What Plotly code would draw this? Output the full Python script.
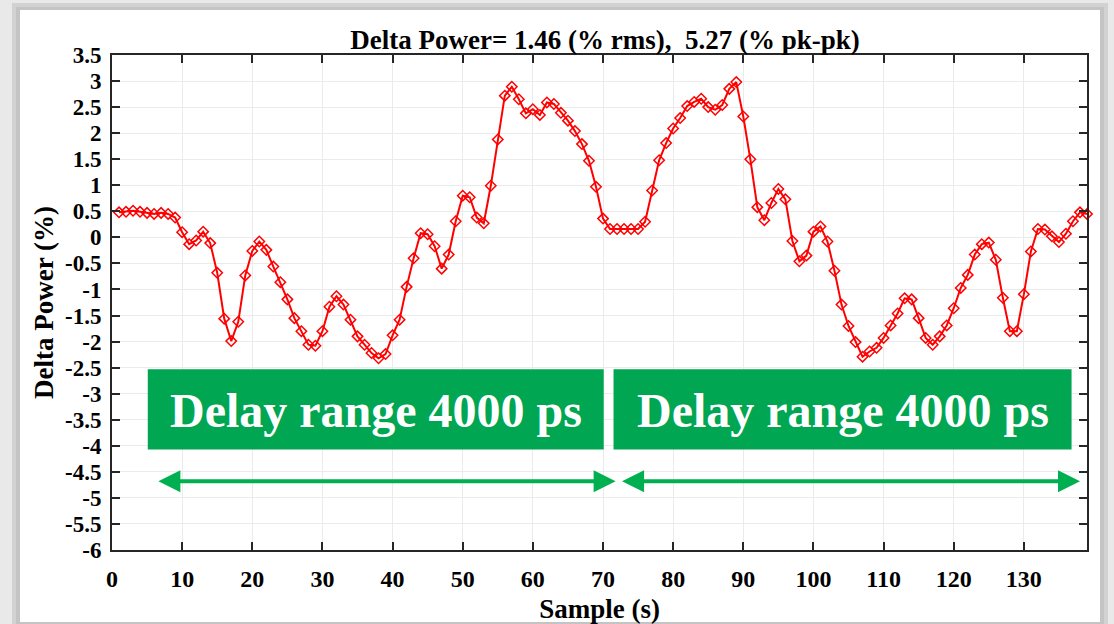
import plotly.graph_objects as go

# ---- data ----
samples = list(range(1, 140))
delta_power = [
    0.48, 0.49, 0.51, 0.49, 0.47, 0.45, 0.47, 0.45, 0.38, 0.10,
    -0.13, -0.06, 0.11, -0.11, -0.68, -1.56, -1.99, -1.62, -0.73, -0.26,
    -0.08, -0.24, -0.56, -0.86, -1.19, -1.55, -1.80, -2.06, -2.08, -1.80,
    -1.33, -1.13, -1.29, -1.58, -1.90, -2.06, -2.22, -2.32, -2.24, -1.88,
    -1.58, -0.95, -0.40, 0.08, 0.06, -0.17, -0.60, -0.33, 0.31, 0.80,
    0.77, 0.38, 0.27, 0.99, 1.88, 2.72, 2.89, 2.65, 2.38, 2.46,
    2.35, 2.59, 2.56, 2.39, 2.24, 2.04, 1.79, 1.47, 0.97, 0.36,
    0.16, 0.16, 0.16, 0.16, 0.16, 0.30, 0.90, 1.48, 1.81, 2.09,
    2.29, 2.52, 2.60, 2.66, 2.50, 2.45, 2.54, 2.85, 2.98, 2.32,
    1.50, 0.58, 0.33, 0.66, 0.93, 0.73, -0.07, -0.46, -0.35, 0.11,
    0.21, -0.08, -0.64, -1.29, -1.70, -2.01, -2.29, -2.19, -2.12, -1.93,
    -1.69, -1.46, -1.17, -1.19, -1.55, -1.93, -2.06, -1.90, -1.69, -1.36,
    -0.97, -0.72, -0.33, -0.13, -0.10, -0.43, -1.16, -1.80, -1.80, -1.09,
    -0.27, 0.16, 0.15, 0.02, -0.09, 0.07, 0.31, 0.48, 0.45,
]
x_ticks = list(range(0, 140, 10))
y_ticks = [3.5 - 0.5 * i for i in range(20)]
y_tick_labels = [("%g" % v) for v in y_ticks]

title_text = "Delta Power= 1.46 (% rms),&nbsp; 5.27 (% pk-pk)"
box_label = "Delay range 4000 ps"
# delay-range segments (sample units)
segments = [(5.1, 70.1), (71.5, 136.8)]
arrow_segments = [(6.4, 71.8), (72.5, 138.0)]

SERIF = "Liberation Serif"
GREEN_BOX = "#00a651"
GREEN_ARROW = "#00b050"
AX = "#262626"

fig = go.Figure()
fig.add_trace(go.Scatter(
    x=samples, y=delta_power, mode="lines+markers",
    line=dict(color="#ff0000", width=2),
    marker=dict(symbol="diamond-open", size=8, color="#ff0000",
                line=dict(width=1.5, color="#ff0000")),
    cliponaxis=False, showlegend=False,
))

L, R, T, B = 112, 1087, 55, 550
W, H = 1114, 624
pw, ph = R - L, B - T


def px(p):
    return (p - L) / pw


def py(p):
    return (B - p) / ph


shapes = [
    dict(type="rect", xref="paper", yref="paper", layer="below",
         x0=px(12), x1=px(1108), y0=py(626), y1=py(3),
         fillcolor="#d2d2d2", line=dict(width=0)),
    dict(type="rect", xref="paper", yref="paper", layer="below",
         x0=px(16), x1=px(1104), y0=py(624), y1=py(7),
         fillcolor="#c4c4c4", line=dict(width=0)),
    dict(type="rect", xref="paper", yref="paper", layer="below",
         x0=px(20), x1=px(1100), y0=py(622), y1=py(10),
         fillcolor="#ffffff", line=dict(width=0)),
]
annotations = []
for (a, b) in segments:
    shapes.append(dict(type="rect", xref="x", yref="y", layer="above",
                       x0=a, x1=b, y0=-4.07, y1=-2.53,
                       fillcolor=GREEN_BOX, line=dict(width=0)))
    annotations.append(dict(x=(a + b) / 2, y=-3.32, xref="x", yref="y",
                            text=box_label, showarrow=False,
                            font=dict(family=SERIF, size=48, color="white",
                                      weight="bold")))
for (a, b) in arrow_segments:
    annotations.append(dict(x=b, y=-4.68, ax=a, ay=-4.68, xref="x", yref="y",
                            axref="x", ayref="y", text="", showarrow=True,
                            arrowhead=2, startarrowhead=2, arrowside="end+start",
                            arrowsize=1.1, startarrowsize=1.1, arrowwidth=4,
                            arrowcolor=GREEN_ARROW))

fig.update_layout(
    width=W, height=H,
    margin=dict(l=L, r=W - R, t=T, b=H - B, autoexpand=False),
    paper_bgcolor="#e9e9e9", plot_bgcolor="white",
    title=dict(text=title_text, x=(605) / W, xanchor="center",
               y=1 - 40 / H, yanchor="middle", yref="container",
               automargin=False,
               font=dict(family=SERIF, size=27, color="black", weight="bold")),
    shapes=shapes, annotations=annotations,
    font=dict(family=SERIF, color="black"),
)
fig.update_xaxes(
    range=[0, 139], tickvals=x_ticks, ticks="inside", ticklen=8, tickwidth=1.5,
    tickcolor=AX, showline=True, linecolor=AX, linewidth=2, mirror="ticks",
    showgrid=True, gridcolor="#ebebeb", gridwidth=1, zeroline=False,
    ticklabelstandoff=6, automargin=False,
    tickfont=dict(family=SERIF, size=24, color="black", weight="bold"),
    title=dict(text="Sample (s)", standoff=8,
               font=dict(family=SERIF, size=27, color="black", weight="bold")),
)
fig.update_yaxes(
    range=[-6, 3.5], tickvals=y_ticks, ticktext=y_tick_labels, ticks="inside",
    ticklen=8, tickwidth=1.5, tickcolor=AX, showline=True, linecolor=AX,
    linewidth=2, mirror="ticks", showgrid=True, gridcolor="#ebebeb",
    gridwidth=1, zeroline=False, ticklabelstandoff=4, automargin=False,
    tickfont=dict(family=SERIF, size=23, color="black", weight="bold"),
    title=dict(text="Delta Power (%)", standoff=4,
               font=dict(family=SERIF, size=27, color="black", weight="bold")),
)

fig.write_html("out.html")
